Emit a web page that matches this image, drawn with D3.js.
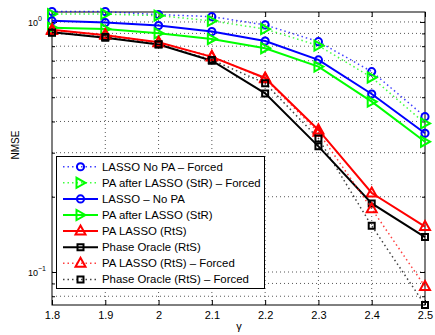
<!DOCTYPE html>
<html>
<head>
<meta charset="utf-8">
<script src="https://cdn.jsdelivr.net/npm/d3@7"></script>
<style>
  body { margin: 0; background: #fff; }
  svg text { font-family: "Liberation Sans", Arial, Helvetica, sans-serif; fill: #000; }
</style>
</head>
<body>
<div class="chart"></div>
<script>
// data
var gammas = [1.8, 1.9, 2.0, 2.1, 2.2, 2.3, 2.4, 2.5];
var xTickLabels = ["1.8", "1.9", "2", "2.1", "2.2", "2.3", "2.4", "2.5"];

var lassoNoPaForced   = [1.10, 1.10, 1.07, 1.05, 0.973, 0.834, 0.633, 0.418];
var paAfterLassoForced = [1.075, 1.075, 1.06, 1.01, 0.937, 0.804, 0.600, 0.393];
var lassoNoPa         = [1.01, 0.994, 0.967, 0.915, 0.839, 0.705, 0.515, 0.359];
var paAfterLasso      = [0.949, 0.937, 0.901, 0.855, 0.785, 0.663, 0.480, 0.332];
var paLasso           = [0.93, 0.885, 0.83, 0.725, 0.597, 0.37, 0.207, 0.152];
var phaseOracle       = [0.91, 0.865, 0.812, 0.70, 0.518, 0.318, 0.188, 0.138];
var paLassoForced     = [0.925, 0.89, 0.826, 0.728, 0.593, 0.362, 0.179, 0.0875];
var phaseOracleForced = [0.905, 0.87, 0.815, 0.705, 0.569, 0.342, 0.153, 0.0738];

var seriesNames = [
  "LASSO No PA \u2013 Forced",
  "PA after LASSO (StR) \u2013 Forced",
  "LASSO \u2013 No PA",
  "PA after LASSO (StR)",
  "PA LASSO (RtS)",
  "Phase Oracle (RtS)",
  "PA LASSO (RtS) \u2013 Forced",
  "Phase Oracle (RtS) \u2013 Forced"
];
var seriesValues = [lassoNoPaForced, paAfterLassoForced, lassoNoPa, paAfterLasso,
                    paLasso, phaseOracle, paLassoForced, phaseOracleForced];
var seriesColors = ["#0000ff", "#00ff00", "#0000ff", "#00ff00", "#ff0000", "#000000", "#ff0000", "#000000"];
var seriesDotted = [true, true, false, false, false, false, true, true];
var seriesMarkers = ["circle", "triright", "circle", "triright", "triup", "square", "triup", "square"];

var yMajor = [0.1, 1];
var yMinor = [0.08, 0.09, 0.2, 0.3, 0.4, 0.5, 0.6, 0.7, 0.8, 0.9];

var svgWidth = 435;
var svgHeight = 335;
var margin = { top: 12, right: 10, bottom: 30, left: 52 };
var width = 425 - margin.left;
var height = 305 - margin.top;

var svg = d3.select(".chart")
  .append("svg")
  .attr("width", svgWidth)
  .attr("height", svgHeight);

var chartGroup = svg.append("g")
  .attr("transform", `translate(${margin.left}, ${margin.top})`);

var xScale = d3.scaleLinear()
  .domain([1.8, 2.5])
  .range([0, width]);

var yScale = d3.scaleLog()
  .domain([0.0738, 1.096])
  .range([height, 0]);

// grid
var gridGroup = chartGroup.append("g")
  .attr("stroke", "#444")
  .attr("stroke-width", 0.9)
  .attr("stroke-dasharray", "1,3");

gridGroup.selectAll(".vgrid")
  .data(gammas.slice(1, -1))
  .enter()
  .append("line")
  .attr("x1", d => xScale(d))
  .attr("x2", d => xScale(d))
  .attr("y1", 0)
  .attr("y2", height);

gridGroup.selectAll(".hgrid")
  .data(yMinor.concat(yMajor))
  .enter()
  .append("line")
  .attr("x1", 0)
  .attr("x2", width)
  .attr("y1", d => yScale(d))
  .attr("y2", d => yScale(d));

// axes, ticks pointing inward
var bottomAxis = d3.axisBottom(xScale)
  .tickValues(gammas)
  .tickFormat((d, i) => xTickLabels[i])
  .tickSizeInner(-5)
  .tickSizeOuter(0)
  .tickPadding(6);

var xAxisG = chartGroup.append("g")
  .attr("transform", `translate(0, ${height})`)
  .call(bottomAxis);
xAxisG.select(".domain").remove();
xAxisG.selectAll("text").style("font-size", "11px").attr("fill", "#000");

var topAxis = d3.axisTop(xScale).tickValues(gammas).tickFormat("").tickSizeInner(-5).tickSizeOuter(0);
var topG = chartGroup.append("g").call(topAxis);
topG.select(".domain").remove();

function yTicks(axisFn, size, vals) {
  var g = chartGroup.append("g")
    .call(axisFn(yScale).tickValues(vals).tickFormat("").tickSizeInner(size).tickSizeOuter(0));
  g.select(".domain").remove();
  return g;
}
yTicks(d3.axisLeft, -5, yMajor);
yTicks(d3.axisLeft, -3, yMinor);
yTicks(d3.axisRight, -5, yMajor).attr("transform", `translate(${width},0)`);
yTicks(d3.axisRight, -3, yMinor).attr("transform", `translate(${width},0)`);

// y tick labels 10^0 and 10^-1
var yLabels = chartGroup.selectAll(".ylab")
  .data(yMajor)
  .enter()
  .append("text")
  .attr("x", -24)
  .attr("y", d => yScale(d) + 4)
  .style("font-size", "9px");
yLabels.append("tspan").text("10");
yLabels.append("tspan")
  .attr("dy", -5)
  .style("font-size", "7px")
  .text(d => d === 1 ? "0" : "\u22121");

// box
chartGroup.append("rect")
  .attr("x", 0).attr("y", 0)
  .attr("width", width).attr("height", height)
  .attr("fill", "none")
  .attr("stroke", "#000")
  .attr("stroke-width", 1);

// markers
function markerPath(type) {
  if (type === "circle") return d3.symbol().type(d3.symbolCircle).size(40)();
  if (type === "square") return "M-3,-3H3V3H-3Z";
  if (type === "triup") return "M0,-5.5L5,3.5L-5,3.5Z";
  return "M5,0L-4,-5L-4,5Z";
}

var line = d3.line()
  .x((d, i) => xScale(gammas[i]))
  .y(d => yScale(d));

seriesValues.forEach(function(vals, s) {
  var g = chartGroup.append("g");
  g.append("path")
    .datum(vals)
    .attr("d", line)
    .attr("fill", "none")
    .attr("stroke", seriesColors[s])
    .attr("stroke-width", seriesDotted[s] ? 1.5 : 2)
    .attr("stroke-dasharray", seriesDotted[s] ? "1.5,3" : null)
    .attr("opacity", seriesDotted[s] ? 0.75 : 1);
  g.selectAll(".pt")
    .data(vals)
    .enter()
    .append("path")
    .attr("transform", (d, i) => `translate(${xScale(gammas[i])},${yScale(d)})`)
    .attr("d", markerPath(seriesMarkers[s]))
    .attr("fill", "none")
    .attr("stroke", seriesColors[s])
    .attr("stroke-width", 2);
});

// legend
var legendG = svg.append("g");
legendG.append("rect")
  .attr("x", 56.5).attr("y", 156.5)
  .attr("width", 208).attr("height", 132)
  .attr("fill", "#fff")
  .attr("stroke", "#000")
  .attr("stroke-width", 1);

var legendRows = legendG.selectAll(".row")
  .data(seriesNames)
  .enter()
  .append("g")
  .attr("transform", (d, i) => `translate(0, ${166.7 + i * 16.1})`);

legendRows.append("line")
  .attr("x1", 63).attr("x2", 98)
  .attr("stroke", (d, i) => seriesColors[i])
  .attr("stroke-width", (d, i) => seriesDotted[i] ? 1.5 : 2)
  .attr("stroke-dasharray", (d, i) => seriesDotted[i] ? "1.5,3" : null)
  .attr("opacity", (d, i) => seriesDotted[i] ? 0.75 : 1);

legendRows.append("path")
  .attr("transform", "translate(80.5,0)")
  .attr("d", (d, i) => markerPath(seriesMarkers[i]))
  .attr("fill", "none")
  .attr("stroke", (d, i) => seriesColors[i])
  .attr("stroke-width", 2);

legendRows.append("text")
  .attr("x", 102)
  .attr("y", 4)
  .style("font-size", "11.4px")
  .text(d => d);

// axis titles
svg.append("text")
  .attr("transform", "translate(19, 145) rotate(-90)")
  .attr("text-anchor", "middle")
  .style("font-size", "10px")
  .text("NMSE");

svg.append("text")
  .attr("x", 239)
  .attr("y", 330)
  .attr("text-anchor", "middle")
  .style("font-size", "11px")
  .text("\u03b3");
</script>
</body>
</html>
